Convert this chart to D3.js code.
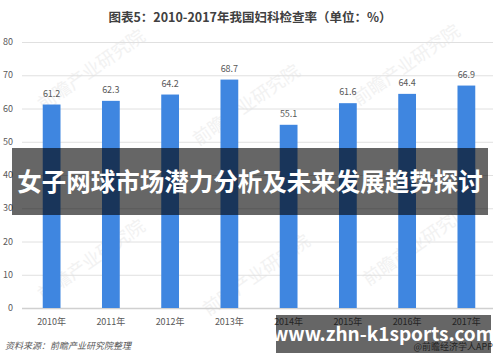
<!DOCTYPE html>
<html>
<head>
<meta charset="utf-8">
<script src="https://cdn.jsdelivr.net/npm/d3@7"></script>
<style>
  body { margin: 0; background: #fff; }
  svg { display: block; font-family: "Noto Sans CJK SC", "Noto Sans", sans-serif; }
</style>
</head>
<body>
<div id="chart"></div>
<script>
// chart data
const years = ["2010年", "2011年", "2012年", "2013年", "2014年", "2015年", "2016年", "2017年"];
const rates = [61.2, 62.3, 64.2, 68.7, 55.1, 61.6, 64.4, 66.9];
const yTicks = [0, 10, 20, 30, 40, 50, 60, 70, 80];

const width = 500, height = 362;
const svg = d3.select('#chart').append('svg')
  .attr('width', width)
  .attr('height', height);

// scales
const x = d3.scaleBand()
  .domain(years)
  .range([22, 496])
  .paddingInner(0.7)
  .paddingOuter(0.35);

const y = d3.scaleLinear()
  .domain([0, 80])
  .range([308, 42]);

// title
svg.append('text')
  .attr('x', 250)
  .attr('y', 22)
  .attr('text-anchor', 'middle')
  .attr('font-size', 12.5)
  .attr('font-weight', 'bold')
  .attr('fill', '#404040')
  .text('图表5：2010-2017年我国妇科检查率（单位：%）');

// faint watermarks
const marks = [[95, 75], [250, 110], [410, 70], [95, 265], [260, 280], [420, 250]];
marks.forEach(([mx, my]) => {
  svg.append('text')
    .attr('transform', `translate(${mx},${my}) rotate(-35)`)
    .attr('text-anchor', 'middle')
    .attr('font-size', 18)
    .attr('fill', '#f2f2f2')
    .text('前瞻产业研究院');
});

// gridlines
svg.append('g')
  .selectAll('line')
  .data(yTicks)
  .join('line')
    .attr('x1', 22)
    .attr('x2', 493)
    .attr('y1', d => y(d) + 0.5)
    .attr('y2', d => y(d) + 0.5)
    .attr('stroke', d => d === 0 ? '#d0d0d0' : '#e0e0e0')
    .attr('stroke-width', d => d === 0 ? 1.5 : 1);

// y labels
svg.append('g')
  .selectAll('text')
  .data(yTicks)
  .join('text')
    .attr('x', 13)
    .attr('y', d => y(d) + 3)
    .attr('text-anchor', 'end')
    .attr('font-size', 9)
    .attr('fill', '#595959')
    .text(d => d);

// bars
svg.append('g')
  .selectAll('rect')
  .data(rates)
  .join('rect')
    .attr('x', (d, i) => x(years[i]))
    .attr('y', d => y(d))
    .attr('width', x.bandwidth())
    .attr('height', d => y(0) - y(d))
    .attr('fill', '#3f86e0');

// value labels
svg.append('g')
  .selectAll('text')
  .data(rates)
  .join('text')
    .attr('x', (d, i) => x(years[i]) + x.bandwidth() / 2)
    .attr('y', d => y(d) - 8)
    .attr('text-anchor', 'middle')
    .attr('font-size', 9)
    .attr('fill', '#595959')
    .text(d => d.toFixed(1));

// x labels
svg.append('g')
  .selectAll('text')
  .data(years)
  .join('text')
    .attr('x', d => x(d) + x.bandwidth() / 2)
    .attr('y', 325)
    .attr('text-anchor', 'middle')
    .attr('font-size', 9)
    .attr('fill', '#595959')
    .text(d => d);

// source
svg.append('text')
  .attr('x', 5)
  .attr('y', 349)
  .attr('font-size', 9)
  .attr('font-style', 'italic')
  .attr('fill', '#595959')
  .text('资料来源：前瞻产业研究院整理');

svg.append('text')
  .attr('x', 493)
  .attr('y', 350)
  .attr('text-anchor', 'end')
  .attr('font-size', 9)
  .attr('fill', '#595959')
  .text('@前瞻经济学人APP');

// headline overlay
svg.append('rect')
  .attr('x', 12)
  .attr('y', 148)
  .attr('width', 476)
  .attr('height', 67)
  .attr('fill', 'rgba(0,0,0,0.6)');

svg.append('text')
  .attr('x', 250)
  .attr('y', 191)
  .attr('text-anchor', 'middle')
  .attr('font-size', 24.5)
  .attr('font-weight', 'bold')
  .attr('fill', '#fff')
  .text('女子网球市场潜力分析及未来发展趋势探讨');

// url overlay
svg.append('rect')
  .attr('x', 276)
  .attr('y', 315)
  .attr('width', 215)
  .attr('height', 38)
  .attr('fill', 'rgba(0,0,0,0.6)');

svg.append('text')
  .attr('x', 383)
  .attr('y', 341)
  .attr('text-anchor', 'middle')
  .attr('font-size', 19)
  .attr('font-weight', 'bold')
  .attr('fill', '#fff')
  .text('www.zhn-k1sports.com');
</script>
</body>
</html>
